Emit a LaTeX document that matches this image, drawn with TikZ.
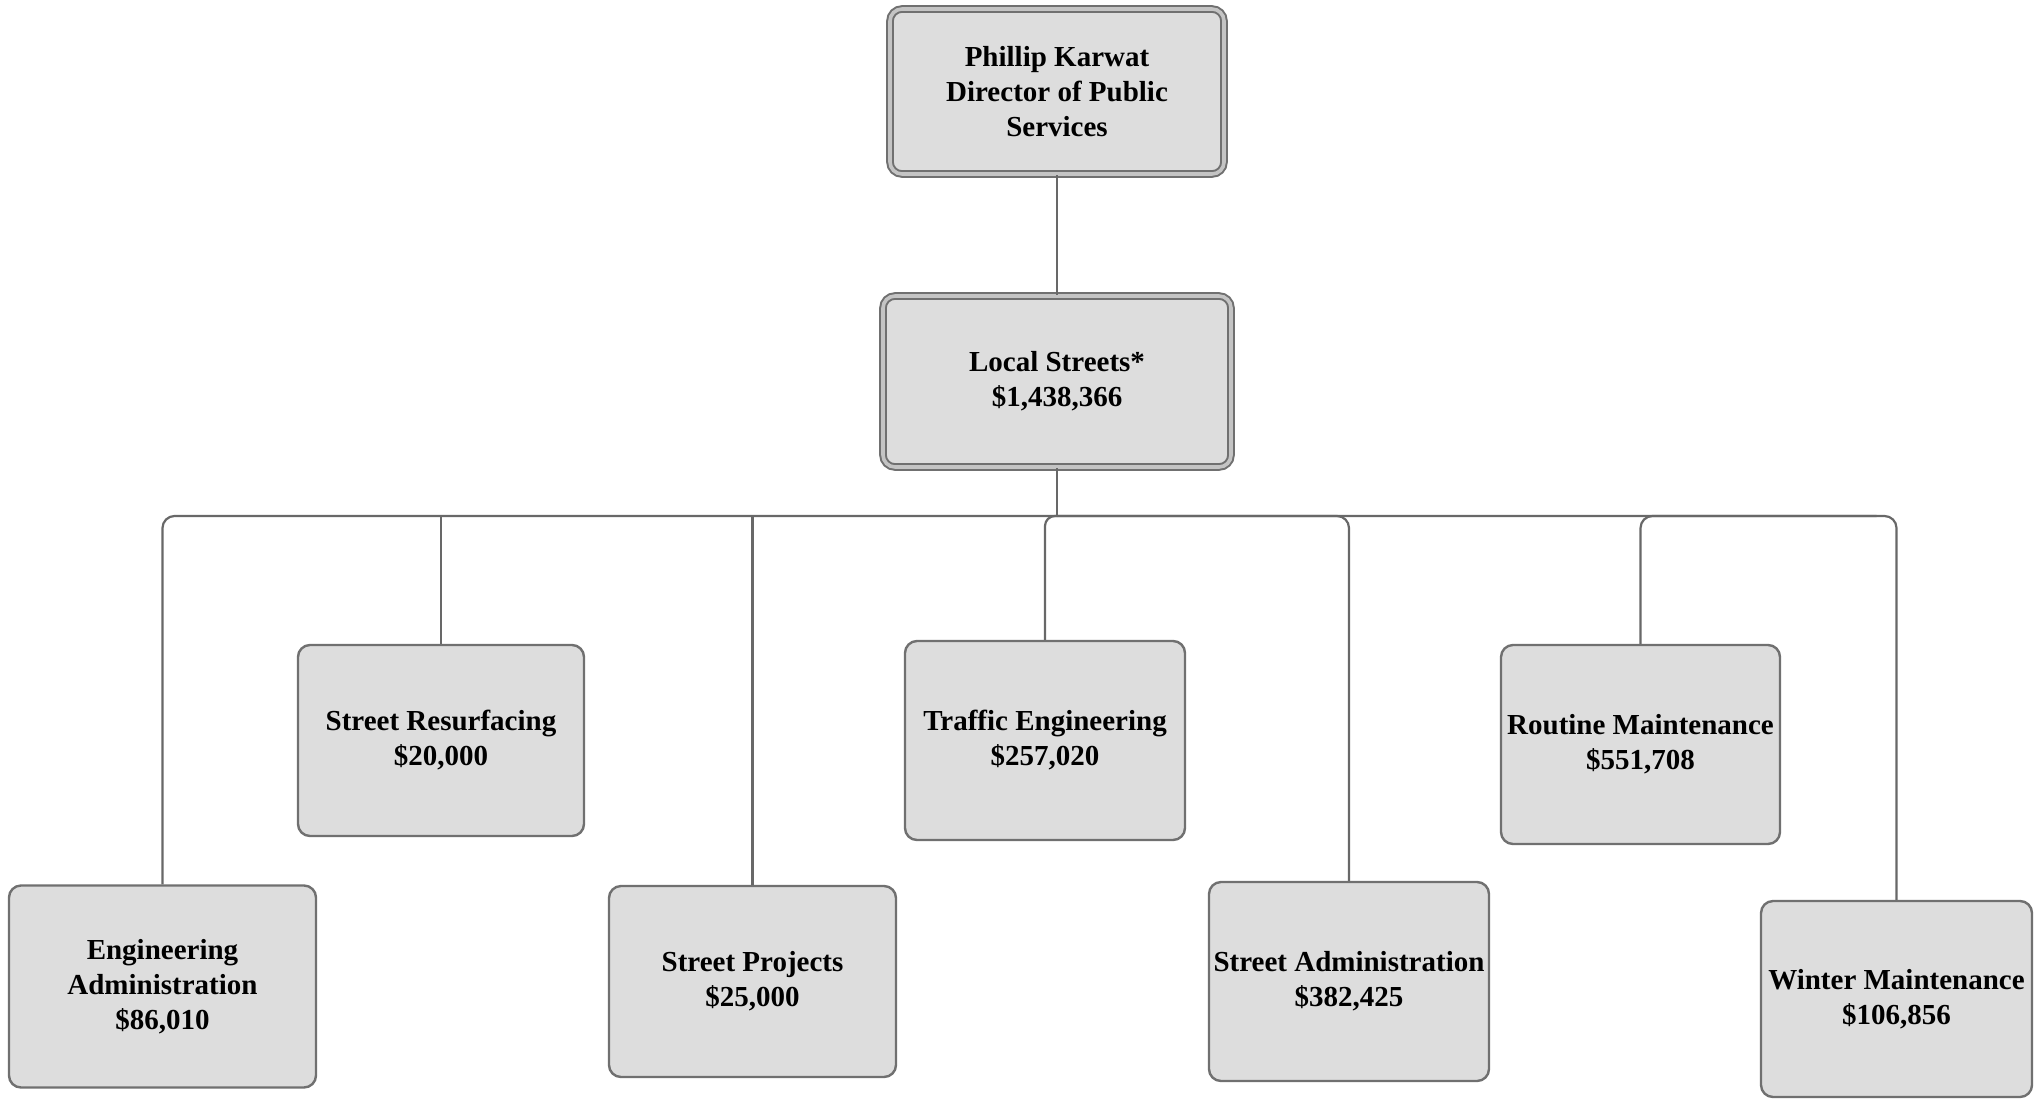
\documentclass[tikz,border=0pt]{standalone}
\usepackage{fontspec}
\setmainfont{Liberation Serif}
\usetikzlibrary{calc}
\begin{document}
\begin{tikzpicture}[x=0.5pt,y=-0.5pt,
  boxline/.style={draw={rgb,255:red,112;green,112;blue,112}},
  unit/.style={boxline, line width=1.2pt, fill={rgb,255:red,221;green,221;blue,221},
    rounded corners=6pt, inner sep=0pt, align=center,
    font=\bfseries\fontsize{14.5}{17.5}\selectfont},
  head/.style={unit, line width=1pt, double={rgb,255:red,196;green,196;blue,196},
    double distance=1.8pt, rounded corners=6pt},
  link/.style={draw={rgb,255:red,104;green,104;blue,104}, line width=1.1pt}]
\clip (0,0) rectangle (2039,1099);
\fill[white] (0,0) rectangle (2039,1099);

% top of the hierarchy
\node[head, minimum width=167pt, minimum height=82.5pt] (dir) at (1057,91.5)
  {Phillip Karwat\\Director of Public\\Services};
\node[head, minimum width=174pt, minimum height=85.5pt] (local) at (1057,381.5)
  {Local Streets*\\\$1,438,366};

% programs
\node[unit, minimum width=153.5pt, minimum height=101pt] (eng) at (162.5,986.5)
  {Engineering\\Administration\\\$86,010};
\node[unit, minimum width=143pt, minimum height=95.5pt] (res) at (441,740.5)
  {Street Resurfacing\\\$20,000};
\node[unit, minimum width=143.5pt, minimum height=95.5pt] (proj) at (752.5,981.5)
  {Street Projects\\\$25,000};
\node[unit, minimum width=140pt, minimum height=99.5pt] (traf) at (1045,740.5)
  {Traffic Engineering\\\$257,020};
\node[unit, minimum width=140pt, minimum height=99.5pt] (adm) at (1349,981.5)
  {Street Administration\\\$382,425};
\node[unit, minimum width=139.5pt, minimum height=99.5pt] (rout) at (1640.5,744.5)
  {Routine Maintenance\\\$551,708};
\node[unit, minimum width=135.5pt, minimum height=98pt] (wint) at (1896.5,999)
  {Winter Maintenance\\\$106,856};

% distribution bus
\coordinate (hub) at (1057,516);
\coordinate (rend) at ($(wint.north |- hub)+(-20,0)$);

\draw[link] (dir) -- (local);
\draw[link] (local) -- (hub);
\draw[link, rounded corners=6pt] (eng.north) |- (hub) -| (wint.north);
\draw[link] (res.north) -- (res.north |- hub);
\draw[link] (proj.north) -- (proj.north |- hub);
\draw[link, rounded corners=5pt] (traf.north) |- (hub);
\draw[link, rounded corners=6pt] (hub) -| (adm.north);
\draw[link, rounded corners=6pt] (rout.north) |- (rend);
\end{tikzpicture}
\end{document}
